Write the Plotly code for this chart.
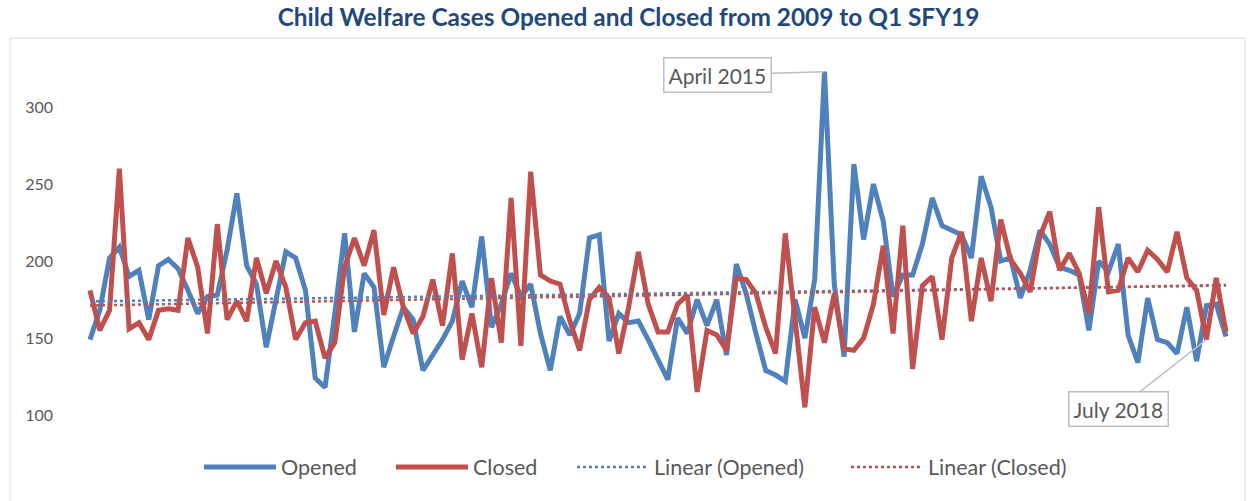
import numpy as np
import plotly.graph_objects as go

# Monthly, Jan 2009 .. Sep 2018 (Q1 SFY19)
months = [f"{y}-{m:02d}" for y in range(2009, 2019) for m in range(1, 13)][:117]

opened = [149, 168, 202, 209, 190, 194, 162, 197, 201, 195, 181, 166, 177, 178, 207, 244, 197, 185, 144, 177,
          206, 202, 181, 124, 118, 166, 218, 154, 192, 183, 131, 151, 170, 162, 129, 139, 149, 161, 187,
          170, 216, 157, 172, 192, 177, 185, 153, 129, 164, 152, 166, 215, 217, 148, 166, 160, 161, 149, 136,
          123, 163, 153, 175, 158, 175, 139, 198, 179, 153, 129, 126, 122, 175, 150, 188, 323, 185, 138,
          263, 214, 250, 226, 177, 191, 191, 211, 241, 223, 220, 217, 202, 255, 235, 200, 202, 176, 194, 220,
          211, 196, 194, 191, 155, 200, 193, 211, 152, 134, 176, 149, 147, 140, 170, 135, 171, 172, 151]

closed = [181, 155, 168, 260, 156, 160, 149, 168, 169, 168, 215, 196, 153, 224, 162, 174, 161, 202, 179, 200,
          183, 149, 160, 161, 137, 147, 196, 215, 197, 220, 165, 196, 170, 153, 164, 188, 158, 205, 136,
          166, 131, 189, 147, 241, 145, 258, 191, 187, 185, 161, 142, 175, 183, 176, 140, 170, 206, 172, 154,
          154, 172, 178, 115, 155, 152, 142, 189, 188, 179, 157, 140, 218, 162, 105, 170, 147, 179, 143,
          142, 150, 172, 210, 153, 223, 130, 184, 190, 149, 202, 219, 161, 202, 174, 227, 201, 192, 180, 216,
          232, 194, 205, 192, 166, 235, 180, 181, 202, 193, 207, 201, 193, 219, 189, 181, 149, 189, 154]

series_names = ["Opened", "Closed", "Linear (Opened)", "Linear (Closed)"]
callouts = [("April 2015", "Opened", 75), ("July 2018", "Closed", 114)]
y_ticks = [100, 150, 200, 250, 300]

BLUE = "#4F81BD"
RED = "#C0504D"
FONT = "Lato"
GRAY_TXT = "#595959"

idx = np.arange(len(months))
fit_o = np.polyval(np.polyfit(idx, opened, 1), idx)
fit_c = np.polyval(np.polyfit(idx, closed, 1), idx)

fig = go.Figure()
fig.add_trace(go.Scatter(x=idx, y=opened, mode="lines", name=series_names[0], legend="legend",
                         line=dict(color=BLUE, width=5)))
fig.add_trace(go.Scatter(x=idx, y=closed, mode="lines", name=series_names[1], legend="legend2",
                         line=dict(color=RED, width=5)))
fig.add_trace(go.Scatter(x=idx, y=fit_o, mode="lines", name=series_names[2], legend="legend3",
                         line=dict(color=BLUE, width=2.5, dash="dot")))
fig.add_trace(go.Scatter(x=idx, y=fit_c, mode="lines", name=series_names[3], legend="legend4",
                         line=dict(color=RED, width=2.5, dash="dot")))

data_map = {"Opened": opened, "Closed": closed}
t, s, i = callouts[0]
fig.add_annotation(x=i, y=data_map[s][i], text=t, showarrow=True, arrowhead=0,
                   arrowcolor="#BFBFBF", arrowwidth=1.5, ax=-107, ay=3,
                   bordercolor="#BFBFBF", borderwidth=1.5, borderpad=4, bgcolor="white",
                   font=dict(family=FONT, size=21, color=GRAY_TXT))
t, s, i = callouts[1]
fig.add_annotation(x=i, y=data_map[s][i], text=t, showarrow=True, arrowhead=0,
                   arrowcolor="#BFBFBF", arrowwidth=1.5, ax=-88, ay=69,
                   bordercolor="#BFBFBF", borderwidth=1.5, borderpad=4, bgcolor="white",
                   font=dict(family=FONT, size=21, color=GRAY_TXT))

# chart border
fig.add_shape(type="rect", xref="paper", yref="paper", x0=-0.0425, x1=1.0077, y0=-0.25, y1=1.018,
              line=dict(color="#D9D9D9", width=1), layer="below")

leg_common = dict(orientation="h", y=-0.096, yanchor="middle", xanchor="left",
                  font=dict(family=FONT, size=21.5, color=GRAY_TXT), itemwidth=72,
                  bgcolor="rgba(0,0,0,0)")
leg_px = [199, 391, 572, 846]
leg_x = [(p - 60) / 1176 for p in leg_px]

fig.update_layout(
    width=1257, height=501,
    margin=dict(l=60, r=21, t=45, b=71, autoexpand=False),
    paper_bgcolor="white", plot_bgcolor="white",
    title=dict(text="<b>Child Welfare Cases Opened and Closed from 2009 to Q1 SFY19</b>",
               x=0.5, xanchor="center", y=0.965, yanchor="middle",
               font=dict(family=FONT, size=24.4, color="#1F497D")),
    xaxis=dict(range=[-3.06, 117.02], showgrid=False, showticklabels=False, zeroline=False,
               showline=False, ticks="", automargin=False),
    yaxis=dict(range=[90.3, 340.3], tickvals=y_ticks, showgrid=False, automargin=False,
               zeroline=False, showline=False, ticks="", ticklabelstandoff=6,
               tickfont=dict(family=FONT, size=16, color=GRAY_TXT)),
    legend=dict(x=leg_x[0], **leg_common),
    legend2=dict(x=leg_x[1], **leg_common),
    legend3=dict(x=leg_x[2], **leg_common),
    legend4=dict(x=leg_x[3], **leg_common),
    showlegend=True,
)

fig.write_html("out.html", config={"displayModeBar": False},
               post_script="document.body.style.margin='0px';")
